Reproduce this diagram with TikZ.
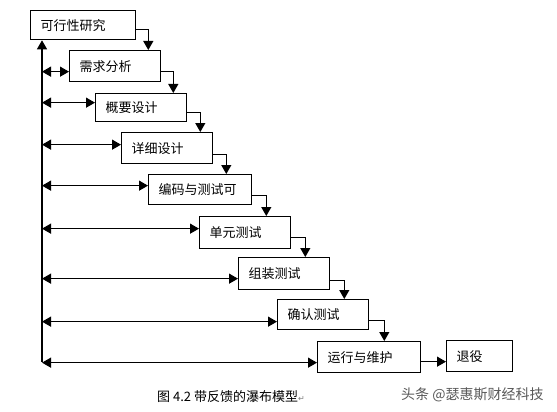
\documentclass[tikz,border=0pt]{standalone}
\usepackage{fontspec}
\newfontfamily\cjk{Noto Sans CJK SC}
\newfontfamily\dv{DejaVu Sans}
\usetikzlibrary{arrows.meta}
\begin{document}
\begin{tikzpicture}[x=1pt,y=-1pt,
  box/.style={draw, line width=1.3pt, anchor=north west, inner xsep=10pt, inner ysep=0pt,
    align=left, font=\cjk\fontsize{13}{13}\selectfont},
  arr/.style={-{Triangle[length=9pt,width=10pt]}, line width=1.2pt},
  darr/.style={{Triangle[length=9pt,width=10pt]}-{Triangle[length=9pt,width=10pt]}, line width=1.2pt}]
\useasboundingbox[fill=white] (0,0) rectangle (557,412);
\node[box, text width=85pt, minimum height=29pt] (b1) at (30,10) {可行性研究};
\node[box, text width=71pt, minimum height=31pt] (b2) at (69,50) {需求分析};
\node[box, text width=71pt, minimum height=28pt] (b3) at (95,93) {概要设计};
\node[box, text width=71pt, minimum height=31pt] (b4) at (121,132) {详细设计};
\node[box, text width=83pt, minimum height=30pt] (b5) at (148,174) {编码与测试可};
\node[box, text width=71pt, minimum height=32pt] (b6) at (199,216) {单元测试};
\node[box, text width=71pt, minimum height=32pt] (b7) at (238,257) {组装测试};
\node[box, text width=71pt, minimum height=30pt] (b8) at (277,299) {确认测试};
\node[box, text width=83pt, minimum height=31pt] (b9) at (317,341) {运行与维护};
\node[box, text width=46pt, minimum height=31pt] (b10) at (446,340) {退役};
% flow arrows
\foreach \i/\j/\s/\o in {1/2/4.5/12, 2/3/5.5/12, 3/4/5/13, 4/5/6.5/13, 5/6/6/14, 6/7/5/14, 7/8/7/14, 8/9/6/15}{
  \path ([yshift=-\s pt]b\i.east) coordinate (s\i) ++(\o,0) coordinate (t\i);
  \draw[arr] (s\i) -| (t\i |- b\j.north);
}
\path ([yshift=-4.5pt]b9.east) coordinate (s9);
\draw[arr] (s9) -- (s9 -| b10.west);
% feedback
\coordinate (vb) at (42,362);
\draw[arr] (vb) -- (vb |- b1.south);
\foreach \j/\s in {2/-5.5, 3/5, 4/3.5, 5/4, 6/4, 7/-5, 8/-7, 9/-5.5}{
  \path ([yshift=\s pt]b\j.west) coordinate (f\j);
  \draw[darr] (f\j -| vb) -- (f\j);
}
\node[anchor=west, inner sep=0pt, font=\cjk\fontsize{13}{13}\selectfont] (cap) at (157,397)
  {图\ 4.2\ 带反馈的瀑布模型{\dv\color{gray}\fontsize{8}{8}\selectfont ↵}};
\node[anchor=west, inner sep=0pt, text=black!65, font=\cjk\fontsize{14}{14}\selectfont] (wm) at (401,395)
  {头条 @瑟惠斯财经科技};
\end{tikzpicture}
\end{document}
